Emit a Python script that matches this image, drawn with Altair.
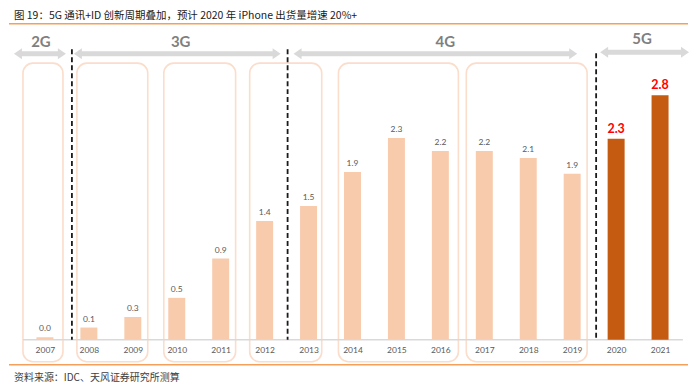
import altair as alt
import pandas as pd

# ---- data ----
years = list(range(2007, 2022))
shipments = [0.03, 0.14, 0.26, 0.48, 0.93, 1.36, 1.53, 1.92, 2.31, 2.16, 2.16, 2.08, 1.90, 2.30, 2.80]
forecast_from = 2020

era_names = ["2G", "3G", "4G", "5G"]
title_text = "图 19：5G 通讯+ID 创新周期叠加，预计 2020 年 iPhone 出货量增速 20%+"
source_text = "资料来源：IDC、天风证券研究所测算"

# ---- layout (in scale units) ----
box_start = [2006.5, 2007.727, 2009.705, 2011.66, 2013.68, 2016.59]
box_end = [2007.41, 2009.34, 2011.34, 2013.3, 2016.41, 2019.34]
box_top, box_bottom = 3.166, -0.251

divider_x = [2007.614, 2012.523, 2019.545]
divider_top = [3.326, 3.326, 3.28]

arrow_start = [2006.295, 2007.659, 2012.659, 2019.636]
arrow_end = [2007.477, 2012.364, 2019.114, 2021.659]
arrow_y = [3.274, 3.274, 3.274, 3.291]
era_text_x = [2006.909, 2010.09, 2016.114, 2020.59]
era_text_y = [3.411, 3.411, 3.411, 3.446]

W, H = 684, 332
XDOM = [2006.182, 2021.727]
YDOM = [0, 3.7943]

df = pd.DataFrame({"year": years, "v": shipments})
df["fc"] = df["year"] >= forecast_from

boxes = pd.DataFrame({"s": box_start, "e": box_end, "t": box_top, "b": box_bottom})
divs = pd.DataFrame({"x": divider_x, "top": divider_top, "bot": 0.0})
arrows = pd.DataFrame({
    "name": era_names, "s": arrow_start, "e": arrow_end, "y": arrow_y,
    "tx": era_text_x, "ty": era_text_y,
})
arrows["ss"] = arrows["s"] + 0.15
arrows["ee"] = arrows["e"] - 0.15
arrows["hl"] = arrows["s"] + 0.091
arrows["hr"] = arrows["e"] - 0.091

xs = alt.Scale(domain=XDOM, nice=False, zero=False, padding=0)
ys = alt.Scale(domain=YDOM, nice=False, zero=False, padding=0)

x_axis = alt.Axis(
    values=years, format="d", grid=False, domain=False, ticks=False, tickSize=0,
    labelPadding=6, labelFontSize=8.5, labelColor="#595959", labelFont="Lato",
    title=None,
)

def X(f):
    return alt.X(f, type="quantitative", scale=xs, axis=x_axis)

def Y(f):
    return alt.Y(f, type="quantitative", scale=ys, axis=None)

box_layer = alt.Chart(boxes).mark_rect(
    cornerRadius=10, fill="white", fillOpacity=0, stroke="#FBDDCB", strokeWidth=1.6
).encode(x=X("s"), x2="e", y=Y("t"), y2="b")

baseline = alt.Chart(pd.DataFrame({"a": [2006.5], "b": [2021.52], "y": [0.0]})).mark_rule(
    color="#D9D9D9", strokeWidth=1.5
).encode(x=X("a"), x2="b", y=Y("y"))

bars = alt.Chart(df).mark_bar(size=17).encode(
    x=X("year"),
    y=Y("v"),
    color=alt.condition("datum.fc", alt.value("#C55A11"), alt.value("#F8CBAD")),
)

labels_hist = alt.Chart(df).transform_filter("!datum.fc").mark_text(
    baseline="bottom", dy=-4, fontSize=8.5, color="#595959", font="Lato"
).encode(x=X("year"), y=Y("v"), text=alt.Text("v:Q", format=".1f"))

labels_fc = alt.Chart(df).transform_filter("datum.fc").mark_text(
    baseline="bottom", dy=-3, fontSize=12.5, fontWeight="bold", color="#FF0000", font="Lato"
).encode(x=X("year"), y=Y("v"), text=alt.Text("v:Q", format=".1f"))

dividers = alt.Chart(divs).mark_rule(
    color="#1a1a1a", strokeWidth=1.8, strokeDash=[5, 3]
).encode(x=X("x"), y=Y("top"), y2="bot")

shafts = alt.Chart(arrows).mark_rule(color="#D9D9D9", strokeWidth=5).encode(
    x=X("ss"), x2="ee", y=Y("y")
)
head_l = alt.Chart(arrows).mark_point(
    shape="M1,-1.375L-1,0L1,1.375Z", size=64, filled=True, color="#D9D9D9", opacity=1
).encode(x=X("hl"), y=Y("y"))
head_r = alt.Chart(arrows).mark_point(
    shape="M-1,-1.375L1,0L-1,1.375Z", size=64, filled=True, color="#D9D9D9", opacity=1
).encode(x=X("hr"), y=Y("y"))
era_text = alt.Chart(arrows).mark_text(
    fontSize=15, fontWeight="bold", color="#7F7F7F", font="Lato", baseline="middle"
).encode(x=X("tx"), y=Y("ty"), text="name:N")

title = alt.Chart(pd.DataFrame({"t": [title_text]})).mark_text(
    align="left", baseline="middle", fontSize=10.5, color="#1a1a1a", font="Noto Sans CJK SC"
).encode(x=alt.value(5), y=alt.value(8), text="t:N")

top_line = alt.Chart(pd.DataFrame({"k": [1]})).mark_rule(
    color="#F5A05A", strokeWidth=1.5
).encode(x=alt.value(0), x2=alt.value(680), y=alt.value(15.5))

bottom_line = alt.Chart(pd.DataFrame({"k": [1]})).mark_rule(
    color="#F5A05A", strokeWidth=1.5
).encode(x=alt.value(0), x2=alt.value(680), y=alt.value(357))

source = alt.Chart(pd.DataFrame({"t": [source_text]})).mark_text(
    align="left", baseline="middle", fontSize=10, color="#404040", font="Noto Sans CJK SC"
).encode(x=alt.value(5), y=alt.value(370), text="t:N")

chart = alt.layer(
    box_layer, baseline, bars, labels_hist, labels_fc, dividers,
    shafts, head_l, head_r, era_text, title, top_line, bottom_line, source,
).properties(width=W, height=H, padding=0).configure_view(stroke=None)

chart.save("out.html", embed_options={"renderer": "svg", "actions": False})
